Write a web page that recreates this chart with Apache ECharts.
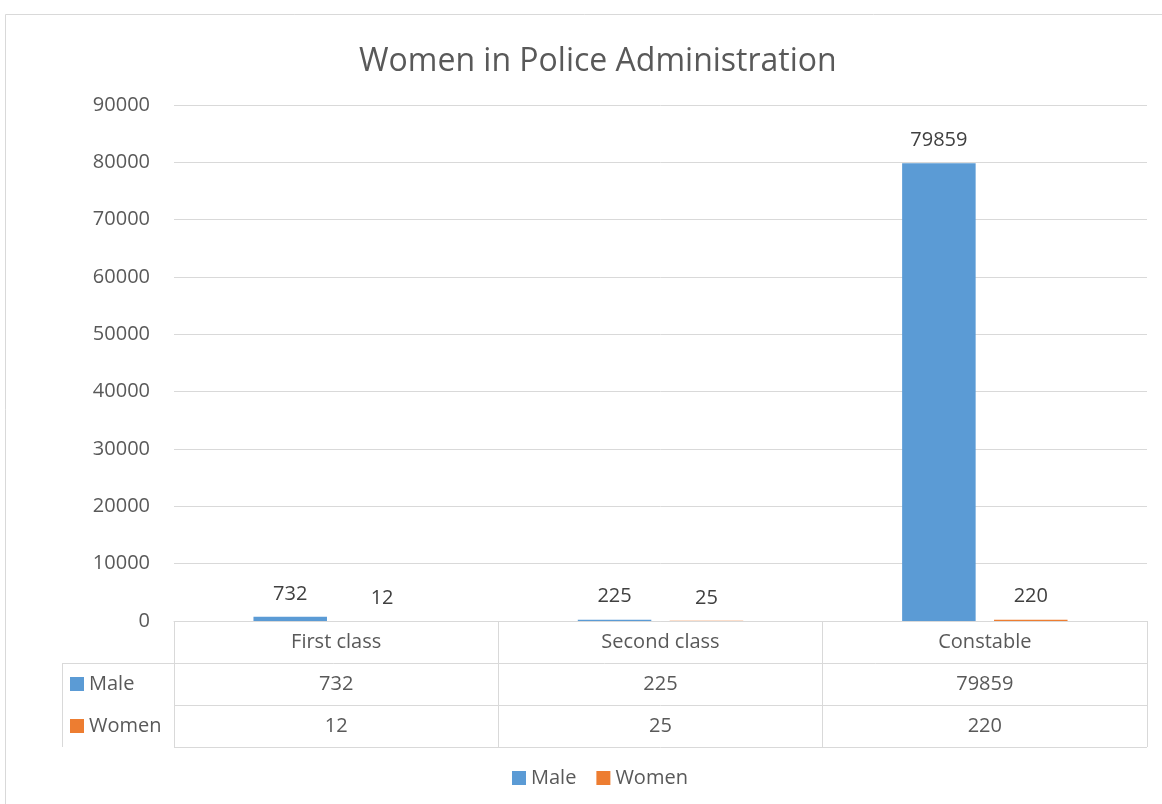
<!DOCTYPE html>
<html><head><meta charset="utf-8">
<script src="https://cdn.jsdelivr.net/npm/echarts@6/dist/echarts.min.js"></script>
<style>html,body{margin:0;padding:0;background:#fff}#c{width:1162px;height:804px}</style>
</head><body><div id="c"></div>
<script>
const categories = ['First class', 'Second class', 'Constable'];
const seriesNames = ['Male', 'Women'];
const maleValues = [732, 225, 79859];
const womenValues = [12, 25, 220];
const seriesColors = ['#5b9bd5', '#ed7d31'];

const FONT = '"Open Sans", "Noto Sans", sans-serif';
const FS = 20;
const TEXT = '#595959';
const LINE = '#d9d9d9';
const gridL = 174, gridR = 1147, gridT = 105, axisY = 621, rowH = 42, tableL = 62;
const W = 1162, H = 804;

const tableRows = [maleValues, womenValues];

const graphic = [
  { type: 'rect', shape: { x: 5.5, y: 14.5, width: 1160, height: 800 }, style: { fill: null, stroke: LINE, lineWidth: 1 }, silent: true }
];
for (let r = 1; r <= 3; r++) {
  const y = axisY + r * rowH + 0.5;
  graphic.push({ type: 'line', shape: { x1: r === 1 ? tableL : gridL, y1: y, x2: gridR, y2: y }, style: { stroke: LINE, lineWidth: 1 }, silent: true });
}
graphic.push({ type: 'line', shape: { x1: tableL + 0.5, y1: axisY + rowH, x2: tableL + 0.5, y2: axisY + 3 * rowH }, style: { stroke: LINE, lineWidth: 1 }, silent: true });
seriesNames.forEach((name, i) => {
  const cy = axisY + (i + 1.5) * rowH;
  graphic.push({ type: 'rect', shape: { x: 70, y: cy - 7, width: 14, height: 14 }, style: { fill: seriesColors[i] }, silent: true });
  graphic.push({ type: 'text', x: 89, y: cy, style: { text: name, fontSize: FS, fontFamily: FONT, fill: TEXT, verticalAlign: 'middle', align: 'left' }, silent: true });
});

const chart = echarts.init(document.getElementById('c'), null, { renderer: 'canvas' });
chart.setOption({
  animation: false,
  backgroundColor: '#fff',
  color: seriesColors,
  title: {
    text: 'Women in Police Administration', left: 354, top: 41,
    textStyle: { fontSize: 32, fontWeight: 'normal', color: TEXT, fontFamily: FONT }
  },
  legend: {
    data: seriesNames, top: 763, left: 507, icon: 'rect', itemWidth: 14, itemHeight: 14, itemGap: 20,
    textStyle: { fontSize: FS, color: TEXT, fontFamily: FONT }
  },
  grid: { left: gridL, right: W - gridR, top: gridT, bottom: H - axisY, containLabel: false },
  xAxis: {
    type: 'category', data: categories,
    axisLine: { show: true, lineStyle: { color: LINE, width: 1 } },
    axisTick: { show: true, length: 3 * rowH, lineStyle: { color: LINE, width: 1 } },
    axisLabel: {
      interval: 0, margin: 0,
      formatter: (v, idx) => `{h|${v}}\n{v|${tableRows[0][idx]}}\n{v|${tableRows[1][idx]}}`,
      rich: {
        h: { fontSize: FS, lineHeight: rowH, color: TEXT, fontFamily: FONT },
        v: { fontSize: FS, lineHeight: rowH, color: TEXT, fontFamily: FONT }
      }
    }
  },
  yAxis: {
    type: 'value', min: 0, max: 90000, interval: 10000,
    axisLine: { show: false }, axisTick: { show: false },
    axisLabel: { fontSize: FS, color: TEXT, fontFamily: FONT, margin: 24, formatter: v => String(v) },
    splitLine: { lineStyle: { color: LINE, width: 1 } }
  },
  series: seriesNames.map((name, i) => ({
    name, type: 'bar', data: tableRows[i],
    barGap: '25%', barCategoryGap: '49%',
    itemStyle: { color: seriesColors[i] },
    label: { show: true, position: 'top', distance: 13, fontSize: FS, color: '#404040', fontFamily: FONT }
  })),
  graphic
});
</script></body></html>
